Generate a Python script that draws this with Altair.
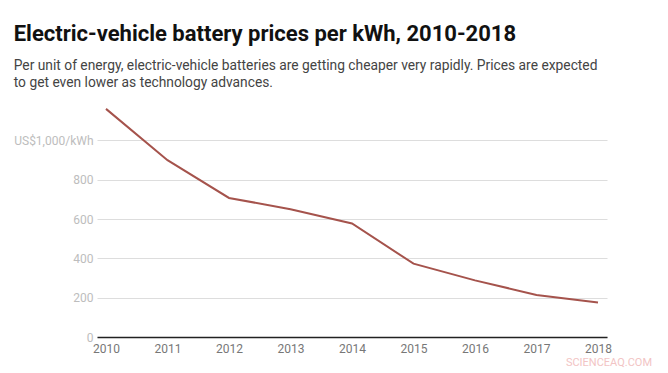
import altair as alt
import pandas as pd

years = [2010, 2011, 2012, 2013, 2014, 2015, 2016, 2017, 2018]
prices = [1160, 899, 707, 650, 577, 373, 288, 214, 176]
y_ticks = [0, 200, 400, 600, 800, 1000]
title_text = "Electric-vehicle battery prices per kWh, 2010-2018"
subtitle_lines = [
    "Per unit of energy, electric-vehicle batteries are getting cheaper very rapidly. Prices are expected",
    "to get even lower as technology advances.",
]
watermark = "SCIENCEAQ.COM"

df = pd.DataFrame({"year": years, "price": prices})

y_label_expr = "datum.value == 1000 ? 'US$1,000/kWh' : format(datum.value, ',')"

base = alt.Chart(df)

line = base.mark_line(color="#a5534c", strokeWidth=2).encode(
    x=alt.X(
        "year:Q",
        scale=alt.Scale(domain=[2010, 2018], padding=9, nice=False, zero=False),
        axis=alt.Axis(
            values=years,
            format="d",
            title=None,
            grid=False,
            ticks=False,
            domain=True,
            domainColor="#222222",
            domainWidth=1.5,
            labelColor="#777777",
            labelFontSize=12,
            labelFont="Roboto",
            labelPadding=6,
        ),
    ),
    y=alt.Y(
        "price:Q",
        scale=alt.Scale(domain=[0, 1200], nice=False),
        axis=alt.Axis(
            values=y_ticks,
            title=None,
            grid=True,
            gridColor="#dddddd",
            domain=False,
            ticks=False,
            labelColor="#bdbdbd",
            labelFontSize=12,
            labelFont="Roboto",
            labelPadding=4,
            labelExpr=y_label_expr,
        ),
    ),
)

wm = alt.Chart(pd.DataFrame({"t": [watermark]})).mark_text(
    align="right", baseline="middle", fontSize=11, font="Roboto", color="#f2c4c4"
).encode(text="t:N", x=alt.value(555), y=alt.value(262))

chart = (
    alt.layer(line, wm)
    .properties(
        width=510,
        height=236,
        background="white",
        padding={"left": 5, "top": 15, "right": 5, "bottom": 0},
        title=alt.TitleParams(
            text=title_text,
            subtitle=subtitle_lines,
            anchor="start",
            frame="bounds",
            font="Roboto",
            fontSize=22,
            fontWeight="bold",
            color="#111111",
            subtitleFont="Roboto",
            subtitleFontSize=13.8,
            subtitleColor="#444444",
            subtitlePadding=13,
            subtitleLineHeight=17,
            offset=10,
        ),
    )
    .configure_view(strokeWidth=0, stroke="transparent")
)

chart.save("out.html", embed_options={"renderer": "svg", "actions": False})
